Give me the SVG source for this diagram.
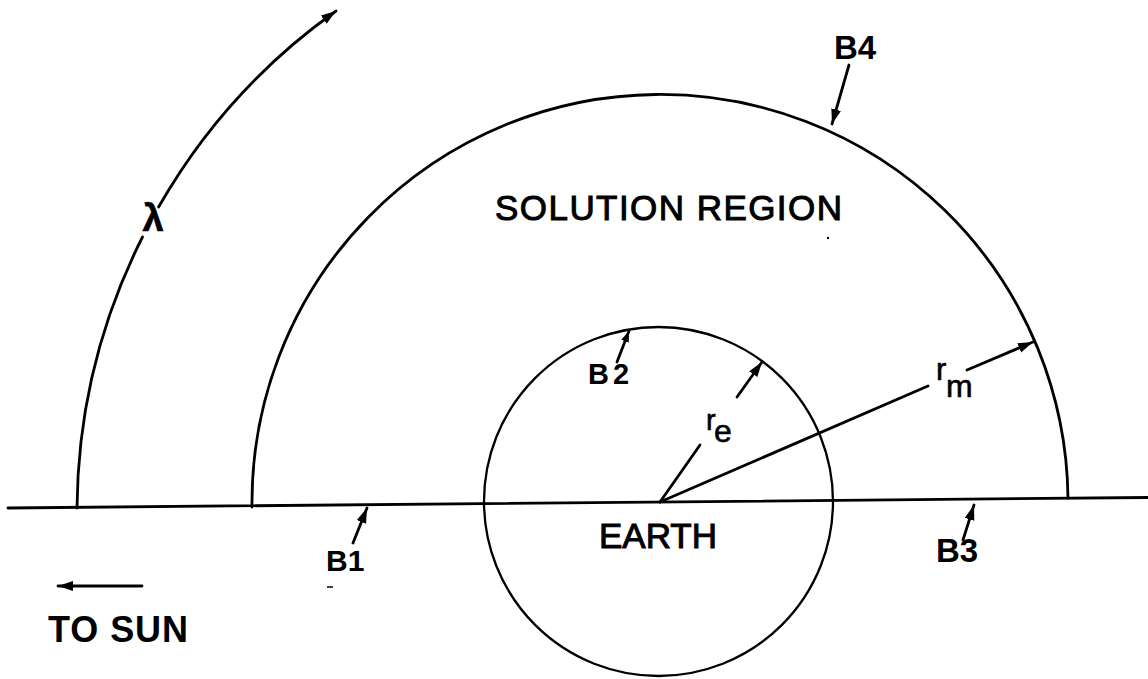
<svg xmlns="http://www.w3.org/2000/svg" width="1148" height="679" viewBox="0 0 1148 679">
<style>
.ln{fill:none;stroke:#000;stroke-width:2.8;stroke-linecap:round}
.thin{fill:none;stroke:#000;stroke-width:2.3}
.lbl{font-family:"Liberation Sans",Arial,sans-serif;font-weight:bold;fill:#000}
.big{font-family:"Liberation Sans",Arial,sans-serif;fill:#000;stroke:#000;stroke-width:1}
.sym{font-family:"Liberation Sans",Arial,sans-serif;fill:#000;stroke:#000;stroke-width:0.6}
</style>
<defs>
<marker id="ah" markerUnits="userSpaceOnUse" markerWidth="18" markerHeight="12" refX="15" refY="5" orient="auto">
<path d="M0,0 L15,5 L0,10 Z" fill="#000"/>
</marker>
<marker id="ahs" markerUnits="userSpaceOnUse" markerWidth="14" markerHeight="10" refX="11" refY="4" orient="auto">
<path d="M0,0 L11,4 L0,8 Z" fill="#000"/>
</marker>
</defs>
<rect width="1148" height="679" fill="#fff"/>

<g id="axis">
<line class="ln" x1="8" y1="508" x2="1148" y2="497.5"/>
</g>

<g id="solution-region">
<path class="ln" d="M252 507 A408 408 0 0 1 1068 498"/>
<text class="big" x="495" y="220" font-size="35" textLength="347" lengthAdjust="spacing">SOLUTION REGION</text>
</g>

<g id="earth">
<circle class="thin" cx="658.5" cy="501.5" r="174.5"/>
<text class="big" x="599" y="548" font-size="35" textLength="118" lengthAdjust="spacingAndGlyphs">EARTH</text>
</g>

<g id="lambda">
<path class="ln" d="M77 508 A613 613 0 0 1 142.5 237"/>
<text class="sym" x="153" y="231" font-size="38" text-anchor="middle" font-weight="bold">λ</text>
</g>

<g id="connectors">
<path class="ln" d="M158.6 207 A613 613 0 0 1 336 11" marker-end="url(#ah)"/>
<line class="ln" x1="849" y1="65" x2="832" y2="124" marker-end="url(#ah)"/>
<line class="ln" x1="617" y1="362" x2="629" y2="331" stroke-width="2" marker-end="url(#ahs)"/>
<line class="ln" x1="660" y1="502" x2="700" y2="445"/>
<line class="ln" x1="737" y1="397" x2="762" y2="362" marker-end="url(#ah)"/>
<line class="ln" x1="660" y1="502" x2="928" y2="386"/>
<line class="ln" x1="967" y1="370" x2="1033" y2="342" marker-end="url(#ah)"/>
<line class="ln" x1="963" y1="540" x2="974" y2="505" marker-end="url(#ah)"/>
<line class="ln" x1="353" y1="543" x2="367" y2="508" marker-end="url(#ah)"/>
<line class="ln" x1="142" y1="586" x2="58" y2="586" marker-end="url(#ah)"/>
</g>

<g id="labels">
<text class="lbl" x="834" y="59" font-size="33">B4</text>
<text class="lbl" x="588" y="384" font-size="29" letter-spacing="4">B2</text>
<text class="lbl" x="326" y="570.5" font-size="30">B1</text>
<text class="lbl" x="936" y="562" font-size="33">B3</text>
<text class="lbl" x="48" y="642" font-size="36" textLength="140" lengthAdjust="spacing">TO SUN</text>
<text class="sym" x="706" y="430" font-size="29">r</text>
<text class="sym" x="714" y="442" font-size="32">e</text>
<text class="sym" x="936" y="380" font-size="31">r</text>
<text class="sym" x="946" y="397" font-size="32">m</text>
</g>

<g id="specks">
<line x1="327" y1="587" x2="333" y2="587" stroke="#000" stroke-width="1.5"/>
<circle cx="828" cy="238" r="1.2" fill="#000"/>
</g>
</svg>
